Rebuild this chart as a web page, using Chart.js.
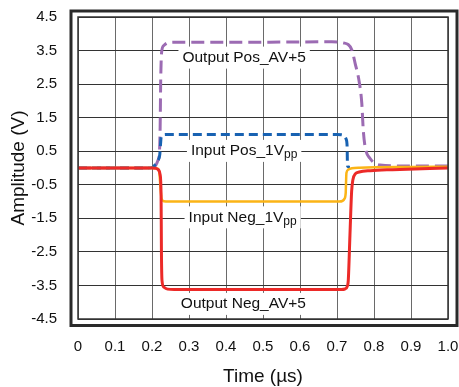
<!DOCTYPE html>
<html><head><meta charset="utf-8">
<script src="https://cdn.jsdelivr.net/npm/chart.js@4.4.1/dist/chart.umd.min.js"></script>
<style>html,body{margin:0;padding:0;background:#fff;}</style>
</head><body>
<canvas id="c" width="459" height="387"></canvas>
<script>
// ---- data ----
const xTickValues = [0, 0.1, 0.2, 0.3, 0.4, 0.5, 0.6, 0.7, 0.8, 0.9, 1.0];
const xTickLabels = ['0', '0.1', '0.2', '0.3', '0.4', '0.5', '0.6', '0.7', '0.8', '0.9', '1.0'];
const yTickValues = [-4.5, -3.5, -2.5, -1.5, -0.5, 0.5, 1.5, 2.5, 3.5, 4.5];
const yTickLabels = ['-4.5', '-3.5', '-2.5', '-1.5', '-0.5', '0.5', '1.5', '2.5', '3.5', '4.5'];

const outNegTime = [0, 0.1, 0.2, 0.21, 0.218, 0.222, 0.2245, 0.2255, 0.227, 0.232, 0.242, 0.26, 0.5, 0.712, 0.722, 0.728, 0.7305, 0.735, 0.7395, 0.743, 0.75, 0.76, 0.79, 0.85, 1.0];
const outNegAmp  = [0, 0, 0, -0.01, -0.06, -0.2, -0.8, -2.5, -3.35, -3.55, -3.61, -3.62, -3.62, -3.62, -3.6, -3.52, -3.35, -2.0, -0.7, -0.35, -0.17, -0.12, -0.08, -0.05, 0.0];

const inNegTime = [0, 0.2, 0.215, 0.22, 0.223, 0.226, 0.232, 0.245, 0.5, 0.706, 0.715, 0.72, 0.7235, 0.7245, 0.7255, 0.73, 0.74, 0.76, 0.9, 1.0];
const inNegAmp  = [0, 0, -0.02, -0.15, -0.6, -0.92, -0.99, -1.0, -1.0, -1.0, -0.98, -0.92, -0.75, -0.4, -0.15, -0.05, -0.01, 0.01, 0.03, 0.04];

const inPosTime = [0, 0.19, 0.2, 0.208, 0.216, 0.221, 0.223, 0.2245, 0.228, 0.236, 0.5, 0.7, 0.712, 0.72, 0.725, 0.7275, 0.728, 0.729, 0.735];
const inPosAmp  = [0, 0, 0.01, 0.09, 0.22, 0.4, 0.7, 0.9, 0.97, 1.0, 1.0, 1.0, 0.99, 0.95, 0.85, 0.6, 0.2, 0.05, 0.02];

const outPosTime = [0, 0.19, 0.2, 0.21, 0.216, 0.22, 0.222, 0.2235, 0.226, 0.232, 0.245, 0.26, 0.5, 0.686, 0.717, 0.74, 0.749, 0.76, 0.767, 0.771, 0.776, 0.789, 0.816, 0.9, 1.0];
const outPosAmp  = [0, 0, 0.01, 0.08, 0.22, 0.45, 1.2, 2.6, 3.45, 3.65, 3.74, 3.75, 3.75, 3.76, 3.73, 3.52, 3.12, 2.57, 1.93, 1.13, 0.63, 0.29, 0.09, 0.06, 0.06];

const noteText = ['Output Pos_AV+5', 'Input Pos_1V', 'Input Neg_1V', 'Output Neg_AV+5'];
const noteSub  = ['', 'pp', 'pp', ''];
const noteX    = [0.449, 0.449, 0.445, 0.447];
const noteY    = [3.29, 0.51, -1.47, -4.05];

// ---- chart ----
const FONT = '"Liberation Sans", Arial, sans-serif';
const pts = (t, a) => t.map((x, i) => ({ x: x, y: a[i] }));

const notesPlugin = {
  id: 'notes',
  beforeDatasetsDraw(chart) {
    const ctx = chart.ctx, xs = chart.scales.x, ys = chart.scales.y;
    ctx.save();
    noteText.forEach((t, i) => {
      const cx = xs.getPixelForValue(noteX[i]);
      const cy = ys.getPixelForValue(noteY[i]);
      ctx.font = '15.5px ' + FONT;
      const w1 = ctx.measureText(t).width;
      let w2 = 0;
      if (noteSub[i]) { ctx.font = '12px ' + FONT; w2 = ctx.measureText(noteSub[i]).width; }
      const w = w1 + w2;
      ctx.fillStyle = '#fff';
      ctx.fillRect(cx - w / 2 - 4, cy - 11, w + 8, 22);
      ctx.fillStyle = '#111';
      ctx.textBaseline = 'middle';
      ctx.textAlign = 'left';
      ctx.font = '15.5px ' + FONT;
      ctx.fillText(t, cx - w / 2, cy);
      if (noteSub[i]) {
        ctx.font = '12px ' + FONT;
        ctx.fillText(noteSub[i], cx - w / 2 + w1, cy + 4);
      }
    });
    ctx.restore();
  }
};

const framePlugin = {
  id: 'frame',
  afterDraw(chart) {
    const ctx = chart.ctx, a = chart.chartArea;
    ctx.save();
    ctx.strokeStyle = '#333';
    ctx.lineWidth = 1.5;
    ctx.strokeRect(a.left, a.top, a.right - a.left, a.bottom - a.top);
    ctx.strokeStyle = '#2a2a2a';
    ctx.lineWidth = 3;
    ctx.strokeRect(a.left - 7, a.top - 6, a.right - a.left + 16, a.bottom - a.top + 12.5);
    ctx.restore();
  }
};

const zeroPad = s => { s.paddingTop = 0; s.paddingBottom = 0; s.paddingLeft = 0; s.paddingRight = 0; };
const common = { pointRadius: 0, fill: false, cubicInterpolationMode: 'monotone', borderCapStyle: 'butt' };

new Chart(document.getElementById('c'), {
  type: 'line',
  data: {
    datasets: [
      Object.assign({ label: 'Output Neg_AV+5', data: pts(outNegTime, outNegAmp), borderColor: '#EC2A28', borderWidth: 3 }, common),
      Object.assign({ label: 'Input Neg_1Vpp', data: pts(inNegTime, inNegAmp), borderColor: '#FBB416', borderWidth: 2.5 }, common),
      Object.assign({ label: 'Input Pos_1Vpp', data: pts(inPosTime, inPosAmp), borderColor: '#1862B2', borderWidth: 3, borderDash: [9, 5] }, common),
      Object.assign({ label: 'Output Pos_AV+5', data: pts(outPosTime, outPosAmp), borderColor: '#9C6BB3', borderWidth: 3, borderDash: [13, 6] }, common)
    ]
  },
  options: {
    responsive: false,
    animation: false,
    devicePixelRatio: 1,
    layout: { padding: { top: 17, right: 11, left: 0, bottom: 0 } },
    plugins: { legend: { display: false }, tooltip: { enabled: false } },
    scales: {
      x: {
        type: 'linear', min: 0, max: 1,
        afterBuildTicks: s => { s.ticks = xTickValues.map(v => ({ value: v })); },
        afterFit: s => { s.height = 68; zeroPad(s); },
        ticks: { callback: (v, i) => xTickLabels[i], font: { family: FONT, size: 15 }, color: '#111', padding: 19, maxRotation: 0, autoSkip: false },
        grid: { color: '#6a6a6a', lineWidth: 1, drawTicks: false },
        border: { display: false },
        title: { display: true, text: 'Time (µs)', color: '#111', font: { family: FONT, size: 19, lineHeight: 1 }, padding: { top: 0, bottom: 1 } }
      },
      y: {
        type: 'linear', min: -4.5, max: 4.5,
        afterBuildTicks: s => { s.ticks = yTickValues.map(v => ({ value: v })); },
        afterFit: s => { s.width = 78; zeroPad(s); },
        ticks: { callback: (v, i) => yTickLabels[i], font: { family: FONT, size: 15 }, color: '#111', padding: 21, autoSkip: false },
        grid: { color: '#333', lineWidth: 1, drawTicks: false },
        border: { display: false },
        title: { display: true, text: 'Amplitude (V)', color: '#111', font: { family: FONT, size: 19, lineHeight: 1 }, padding: { top: 9, bottom: 0 } }
      }
    }
  },
  plugins: [notesPlugin, framePlugin]
});
</script>
</body></html>
